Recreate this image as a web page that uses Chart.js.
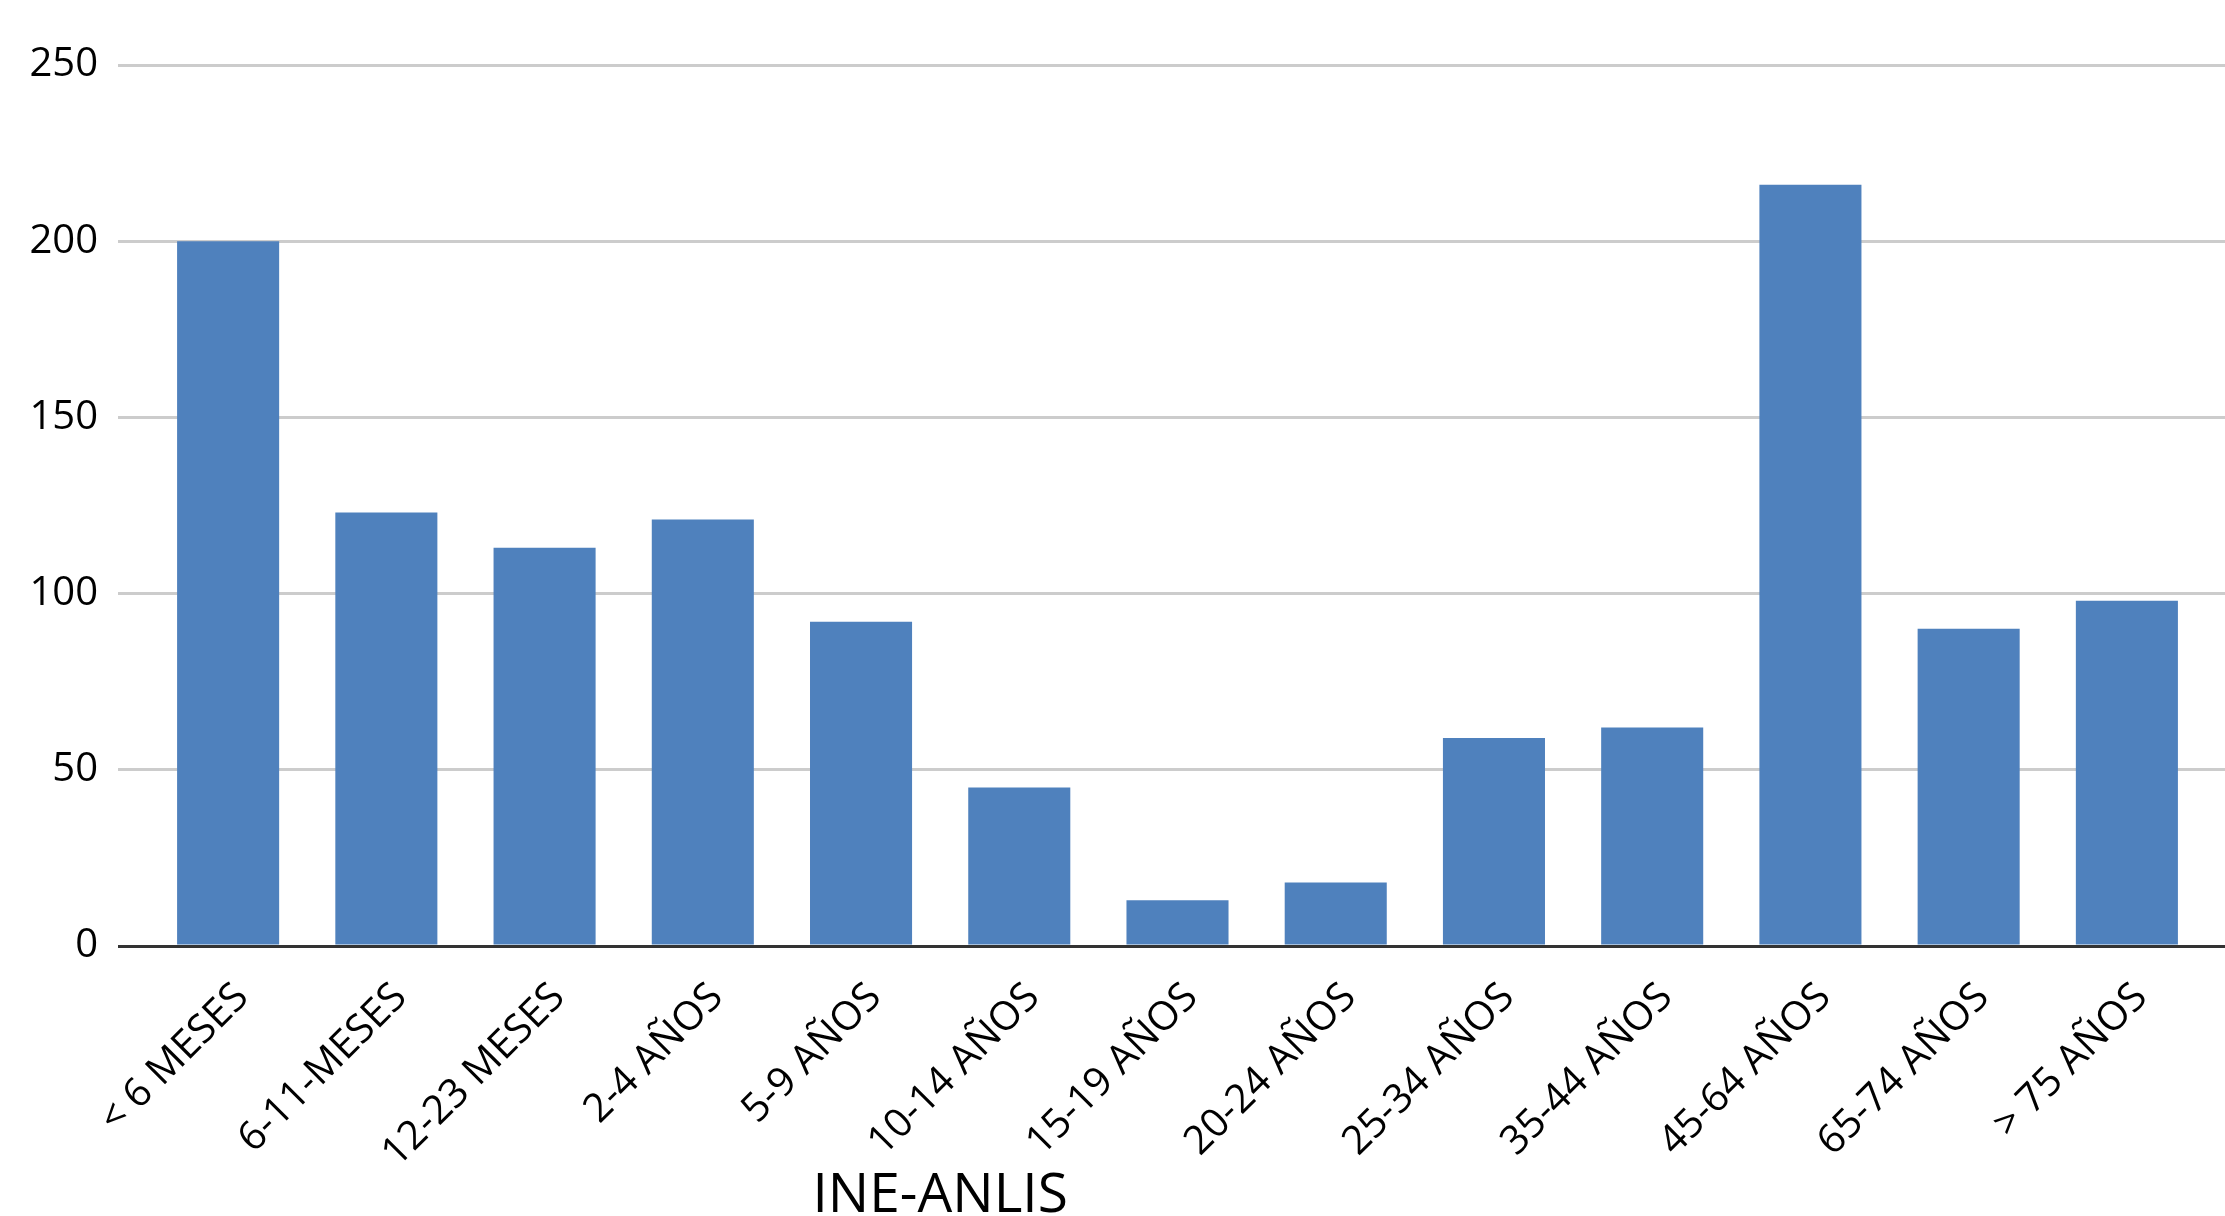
<!DOCTYPE html>
<html lang="es">
<head>
<meta charset="utf-8">
<title>INE-ANLIS</title>
<script src="https://cdn.jsdelivr.net/npm/chart.js@4"></script>
<style>
  html, body { margin: 0; padding: 0; background: #ffffff; overflow: hidden; }
  #wrap { position: relative; width: 2225px; height: 1216px; }
</style>
</head>
<body>
<div id="wrap"><canvas id="chart" width="2225" height="1216"></canvas></div>
<script>
// Grupos de edad
const categories = [
  '< 6 MESES', '6-11-MESES', '12-23 MESES', '2-4 AÑOS', '5-9 AÑOS',
  '10-14 AÑOS', '15-19 AÑOS', '20-24 AÑOS', '25-34 AÑOS', '35-44 AÑOS',
  '45-64 AÑOS', '65-74 AÑOS', '> 75 AÑOS'
];
// Casos por grupo de edad
const casos = [200, 123, 113, 121, 92, 45, 13, 18, 59, 62, 216, 90, 98];
// Escala del eje vertical
const yMin = 0;
const yMax = 250;
const yStep = 50;
const sourceLabel = 'INE-ANLIS';

const FONT = '"Open Sans", "Liberation Sans", sans-serif';
const BAR = '#4f81bd';
const GRID = '#cccccc';
const AXIS = '#333333';

const lineColor = (ctx) => (ctx.tick && ctx.tick.value === 0 ? AXIS : GRID);

// Fuente escrita bajo las etiquetas del eje de categorías
const sourcePlugin = {
  id: 'sourceLabel',
  afterDraw(chart) {
    const { ctx } = chart;
    const x = chart.scales.x.getPixelForValue(4.5);
    ctx.save();
    ctx.font = '55px ' + FONT;
    ctx.fillStyle = '#000000';
    ctx.textAlign = 'center';
    ctx.textBaseline = 'alphabetic';
    ctx.fillText(sourceLabel, x, chart.height - 4);
    ctx.restore();
  }
};

new Chart(document.getElementById('chart'), {
  type: 'bar',
  data: {
    labels: categories,
    datasets: [{
      data: casos,
      backgroundColor: BAR,
      borderWidth: 0,
      categoryPercentage: 1,
      barPercentage: 0.645
    }]
  },
  options: {
    responsive: false,
    animation: false,
    layout: { padding: { top: 65, bottom: 55, left: 0, right: 0 } },
    plugins: {
      legend: { display: false },
      tooltip: { enabled: false },
      title: { display: false }
    },
    scales: {
      x: {
        grid: { display: false, drawTicks: false },
        border: { display: false },
        ticks: {
          color: '#000000',
          font: { family: FONT, size: 40 },
          minRotation: 45,
          maxRotation: 45,
          autoSkip: false,
          padding: 28,
          labelOffset: 14
        },
        afterFit(scale) { scale.height = 215; }
      },
      y: {
        position: 'left',
        min: yMin,
        max: yMax,
        grid: {
          color: lineColor,
          tickColor: lineColor,
          lineWidth: 3,
          drawTicks: true,
          tickLength: 31
        },
        border: { display: false },
        ticks: {
          stepSize: yStep,
          color: '#000000',
          font: { family: FONT, size: 40 },
          padding: 20
        },
        afterFit(scale) { scale.width = 149; }
      },
      yRight: {
        position: 'right',
        min: yMin,
        max: yMax,
        grid: {
          drawOnChartArea: false,
          color: lineColor,
          tickColor: lineColor,
          lineWidth: 3,
          drawTicks: true,
          tickLength: 19
        },
        border: { display: false },
        ticks: { stepSize: yStep, display: false },
        afterFit(scale) { scale.width = 19; }
      }
    }
  },
  plugins: [sourcePlugin]
});
</script>
</body>
</html>
